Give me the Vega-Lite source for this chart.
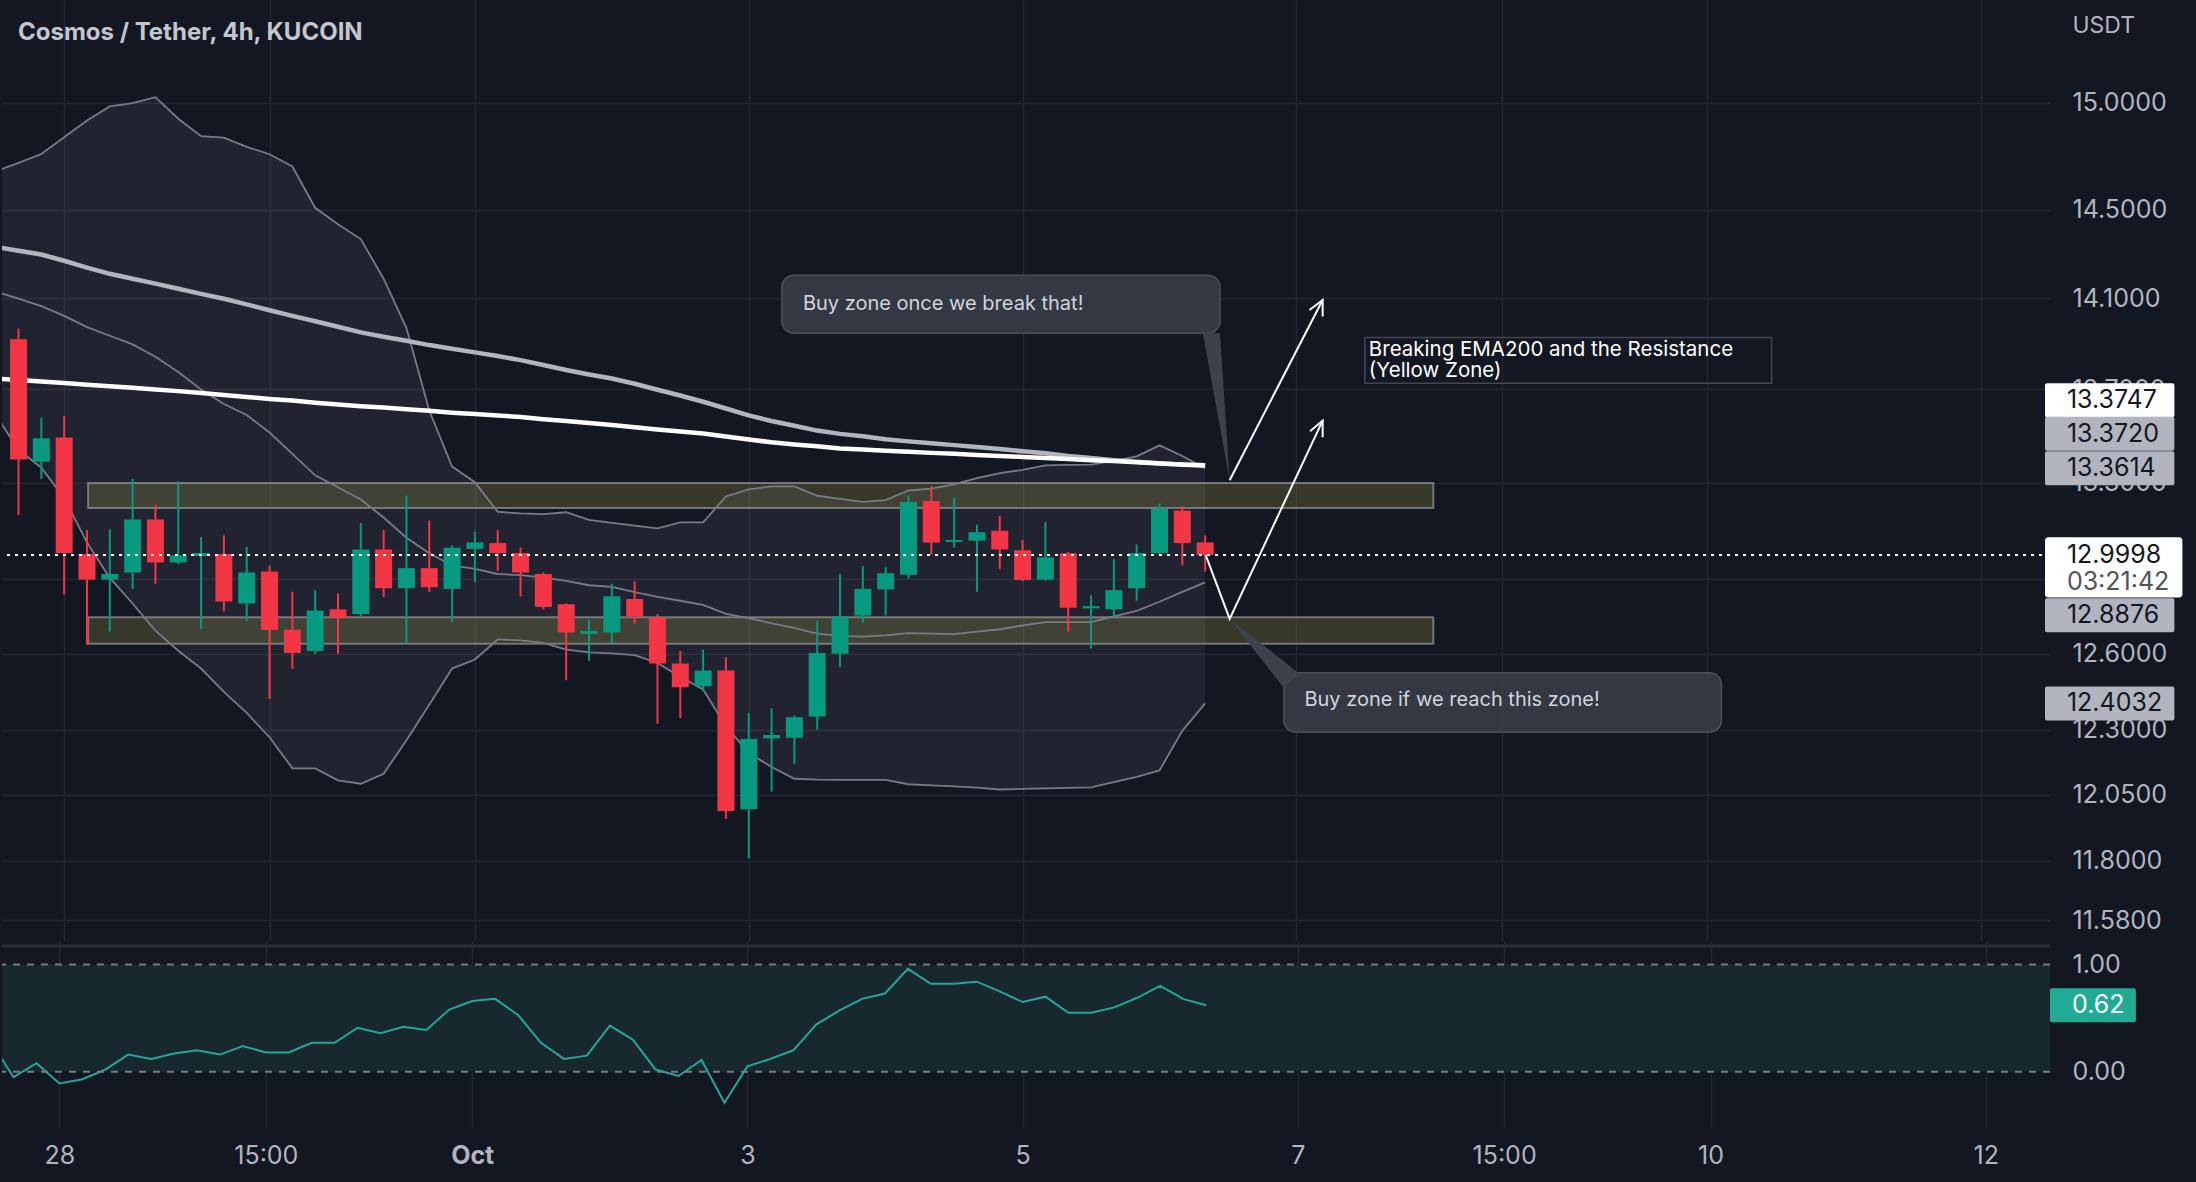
{
  "$schema": "https://vega.github.io/schema/vega-lite/v6.json",
  "background": "#131722",
  "padding": 0,
  "spacing": 0,
  "config": {"view": {"stroke": null}, "font": "Inter", "axis": {"labelFont": "Inter", "titleFont": "Inter"}},
  "datasets": {
    "bars": [
      {"t":-12,"bu":14.679,"bm":14.130,"bl":13.589,"eg":14.331,"ew":13.747,"osc":0.28},
      {"t":-8,"o":13.919,"h":13.966,"l":13.165,"c":13.399,"bu":14.718,"bm":14.099,"bl":13.440,"eg":14.314,"ew":13.740,"osc":-0.05},
      {"t":-4,"o":13.39,"h":13.577,"l":13.317,"c":13.489,"bu":14.759,"bm":14.065,"bl":13.364,"eg":14.297,"ew":13.734,"osc":0.08},
      {"t":0,"o":13.493,"h":13.584,"l":12.838,"c":13.008,"bu":14.838,"bm":14.022,"bl":13.236,"eg":14.269,"ew":13.727,"osc":-0.11},
      {"t":4,"o":13.004,"h":13.103,"l":12.636,"c":12.899,"bu":14.917,"bm":13.972,"bl":13.051,"eg":14.238,"ew":13.720,"osc":-0.07},
      {"t":8,"o":12.899,"h":13.106,"l":12.688,"c":12.922,"bu":14.983,"bm":13.934,"bl":12.906,"eg":14.210,"ew":13.713,"osc":0.02},
      {"t":12,"o":12.928,"h":13.317,"l":12.861,"c":13.147,"bu":14.999,"bm":13.896,"bl":12.802,"eg":14.188,"ew":13.707,"osc":0.16},
      {"t":16,"o":13.147,"h":13.206,"l":12.882,"c":12.969,"bu":15.027,"bm":13.842,"bl":12.692,"eg":14.166,"ew":13.699,"osc":0.12},
      {"t":20,"o":12.969,"h":13.307,"l":12.962,"c":12.998,"bu":14.925,"bm":13.775,"bl":12.612,"eg":14.143,"ew":13.692,"osc":0.17},
      {"t":24,"o":12.996,"h":13.074,"l":12.699,"c":13.008,"bu":14.843,"bm":13.699,"bl":12.541,"eg":14.120,"ew":13.684,"osc":0.20},
      {"t":28,"o":13.004,"h":13.081,"l":12.770,"c":12.810,"bu":14.836,"bm":13.636,"bl":12.449,"eg":14.098,"ew":13.675,"osc":0.16},
      {"t":32,"o":12.802,"h":13.033,"l":12.731,"c":12.928,"bu":14.793,"bm":13.589,"bl":12.366,"eg":14.073,"ew":13.667,"osc":0.24},
      {"t":36,"o":12.932,"h":12.957,"l":12.421,"c":12.695,"bu":14.758,"bm":13.514,"bl":12.271,"eg":14.047,"ew":13.658,"osc":0.18},
      {"t":40,"o":12.696,"h":12.849,"l":12.540,"c":12.603,"bu":14.701,"bm":13.423,"bl":12.151,"eg":14.022,"ew":13.651,"osc":0.18},
      {"t":44,"o":12.611,"h":12.856,"l":12.600,"c":12.773,"bu":14.510,"bm":13.332,"bl":12.151,"eg":13.998,"ew":13.642,"osc":0.27},
      {"t":48,"o":12.778,"h":12.842,"l":12.600,"c":12.745,"bu":14.435,"bm":13.282,"bl":12.105,"eg":13.974,"ew":13.634,"osc":0.27},
      {"t":52,"o":12.759,"h":13.132,"l":12.750,"c":13.023,"bu":14.367,"bm":13.230,"bl":12.092,"eg":13.949,"ew":13.627,"osc":0.41},
      {"t":56,"o":13.023,"h":13.103,"l":12.828,"c":12.864,"bu":14.188,"bm":13.155,"bl":12.130,"eg":13.930,"ew":13.621,"osc":0.36},
      {"t":60,"o":12.864,"h":13.246,"l":12.643,"c":12.946,"bu":13.968,"bm":13.071,"bl":12.260,"eg":13.912,"ew":13.614,"osc":0.42},
      {"t":64,"o":12.946,"h":13.143,"l":12.849,"c":12.868,"bu":13.608,"bm":13.007,"bl":12.398,"eg":13.893,"ew":13.607,"osc":0.39},
      {"t":68,"o":12.861,"h":13.040,"l":12.727,"c":13.030,"bu":13.369,"bm":12.957,"bl":12.541,"eg":13.877,"ew":13.599,"osc":0.58},
      {"t":72,"o":13.025,"h":13.096,"l":12.888,"c":13.052,"bu":13.303,"bm":12.943,"bl":12.577,"eg":13.861,"ew":13.593,"osc":0.66},
      {"t":76,"o":13.049,"h":13.103,"l":12.935,"c":13.008,"bu":13.179,"bm":12.922,"bl":12.657,"eg":13.845,"ew":13.587,"osc":0.68},
      {"t":80,"o":13.008,"h":13.030,"l":12.831,"c":12.928,"bu":13.172,"bm":12.917,"bl":12.653,"eg":13.827,"ew":13.580,"osc":0.53},
      {"t":84,"o":12.922,"h":12.928,"l":12.778,"c":12.788,"bu":13.169,"bm":12.907,"bl":12.643,"eg":13.806,"ew":13.571,"osc":0.27},
      {"t":88,"o":12.799,"h":12.803,"l":12.495,"c":12.685,"bu":13.177,"bm":12.894,"bl":12.616,"eg":13.784,"ew":13.563,"osc":0.12},
      {"t":92,"o":12.679,"h":12.737,"l":12.572,"c":12.691,"bu":13.145,"bm":12.876,"bl":12.605,"eg":13.764,"ew":13.555,"osc":0.15},
      {"t":96,"o":12.685,"h":12.882,"l":12.643,"c":12.831,"bu":13.133,"bm":12.869,"bl":12.601,"eg":13.747,"ew":13.546,"osc":0.43},
      {"t":100,"o":12.820,"h":12.893,"l":12.721,"c":12.749,"bu":13.121,"bm":12.848,"bl":12.594,"eg":13.724,"ew":13.536,"osc":0.30},
      {"t":104,"o":12.745,"h":12.759,"l":12.324,"c":12.561,"bu":13.110,"bm":12.829,"bl":12.563,"eg":13.698,"ew":13.527,"osc":0.02},
      {"t":108,"o":12.561,"h":12.611,"l":12.346,"c":12.467,"bu":13.135,"bm":12.813,"bl":12.508,"eg":13.673,"ew":13.518,"osc":-0.04},
      {"t":112,"o":12.471,"h":12.617,"l":12.453,"c":12.533,"bu":13.135,"bm":12.796,"bl":12.458,"eg":13.646,"ew":13.510,"osc":0.11},
      {"t":116,"o":12.533,"h":12.586,"l":11.958,"c":11.988,"bu":13.243,"bm":12.760,"bl":12.314,"eg":13.617,"ew":13.497,"osc":-0.29},
      {"t":120,"o":11.995,"h":12.366,"l":11.809,"c":12.264,"bu":13.273,"bm":12.743,"bl":12.210,"eg":13.587,"ew":13.484,"osc":0.05},
      {"t":124,"o":12.267,"h":12.384,"l":12.062,"c":12.280,"bu":13.285,"bm":12.722,"bl":12.156,"eg":13.563,"ew":13.472,"osc":0.12},
      {"t":128,"o":12.269,"h":12.356,"l":12.168,"c":12.349,"bu":13.285,"bm":12.703,"bl":12.111,"eg":13.543,"ew":13.463,"osc":0.20},
      {"t":132,"o":12.352,"h":12.731,"l":12.301,"c":12.603,"bu":13.246,"bm":12.680,"bl":12.108,"eg":13.522,"ew":13.455,"osc":0.44},
      {"t":136,"o":12.600,"h":12.921,"l":12.547,"c":12.749,"bu":13.233,"bm":12.671,"bl":12.107,"eg":13.508,"ew":13.446,"osc":0.57},
      {"t":140,"o":12.753,"h":12.954,"l":12.725,"c":12.861,"bu":13.220,"bm":12.668,"bl":12.107,"eg":13.498,"ew":13.441,"osc":0.68},
      {"t":144,"o":12.859,"h":12.950,"l":12.753,"c":12.925,"bu":13.228,"bm":12.673,"bl":12.107,"eg":13.485,"ew":13.436,"osc":0.73},
      {"t":148,"o":12.919,"h":13.246,"l":12.903,"c":13.220,"bu":13.268,"bm":12.682,"bl":12.090,"eg":13.476,"ew":13.432,"osc":0.96},
      {"t":152,"o":13.224,"h":13.288,"l":13.001,"c":13.051,"bu":13.276,"bm":12.680,"bl":12.086,"eg":13.468,"ew":13.427,"osc":0.82},
      {"t":156,"o":13.054,"h":13.240,"l":13.030,"c":13.062,"bu":13.294,"bm":12.678,"bl":12.082,"eg":13.460,"ew":13.423,"osc":0.82},
      {"t":160,"o":13.059,"h":13.125,"l":12.849,"c":13.094,"bu":13.320,"bm":12.688,"bl":12.077,"eg":13.452,"ew":13.418,"osc":0.84},
      {"t":164,"o":13.100,"h":13.162,"l":12.943,"c":13.023,"bu":13.341,"bm":12.698,"bl":12.070,"eg":13.443,"ew":13.414,"osc":0.75},
      {"t":168,"o":13.019,"h":13.062,"l":12.893,"c":12.897,"bu":13.355,"bm":12.713,"bl":12.072,"eg":13.434,"ew":13.410,"osc":0.65},
      {"t":172,"o":12.899,"h":13.136,"l":12.895,"c":12.990,"bu":13.374,"bm":12.727,"bl":12.074,"eg":13.425,"ew":13.405,"osc":0.70},
      {"t":176,"o":13.007,"h":13.012,"l":12.688,"c":12.785,"bu":13.376,"bm":12.727,"bl":12.076,"eg":13.414,"ew":13.401,"osc":0.55},
      {"t":180,"o":12.782,"h":12.835,"l":12.621,"c":12.791,"bu":13.377,"bm":12.727,"bl":12.078,"eg":13.405,"ew":13.396,"osc":0.55},
      {"t":184,"o":12.778,"h":12.983,"l":12.745,"c":12.856,"bu":13.393,"bm":12.750,"bl":12.098,"eg":13.396,"ew":13.392,"osc":0.60},
      {"t":188,"o":12.864,"h":13.044,"l":12.813,"c":13.008,"bu":13.412,"bm":12.772,"bl":12.118,"eg":13.389,"ew":13.387,"osc":0.69},
      {"t":192,"o":13.008,"h":13.214,"l":13.0,"c":13.191,"bu":13.459,"bm":12.809,"bl":12.143,"eg":13.383,"ew":13.382,"osc":0.80},
      {"t":196,"o":13.184,"h":13.203,"l":12.957,"c":13.049,"bu":13.414,"bm":12.849,"bl":12.296,"eg":13.377,"ew":13.378,"osc":0.68},
      {"t":200,"o":13.052,"h":13.081,"l":12.932,"c":12.9998,"bu":13.3614,"bm":12.8876,"bl":12.4032,"eg":13.372,"ew":13.3747,"osc":0.62}
    ],
    "zones": [
      {"t1":4.2,"t2":240,"p1":13.195,"p2":13.300},
      {"t1":4.2,"t2":240,"p1":12.640,"p2":12.746}
    ],
    "callouts": [
      {"t1":125.8,"t2":202.6,"p1":13.945,"p2":14.204},
      {"t1":213.8,"t2":290.5,"p1":12.291,"p2":12.524}
    ],
    "callouttext": [
      {"t":129.5,"p":14.073,"text":"Buy zone once we break that!"},
      {"t":217.4,"p":12.415,"text":"Buy zone if we reach this zone!"}
    ],
    "tail1": [
      {"p":13.945,"x1":199.6,"x2":202.6},
      {"p":13.311,"x1":204.3,"x2":204.3}
    ],
    "tail3": [
      {"t":204.3,"y1":12.740,"y2":12.740},
      {"t":213.8,"y1":12.464,"y2":12.570},
      {"t":216.5,"y1":12.52,"y2":12.52}
    ],
    "note": [{"t1":228,"t2":299.3,"p1":13.726,"p2":13.926}],
    "notetext": [
      {"t":228.7,"p":13.872,"text":"Breaking EMA200 and the Resistance"},
      {"t":228.7,"p":13.781,"text":"(Yellow Zone)"}
    ],
    "arrows": [
      {"seg":"a1","o":1,"t":200.1,"p":12.9998},
      {"seg":"a1","o":2,"t":204.3,"p":12.740},
      {"seg":"a1","o":3,"t":220.6,"p":13.565},
      {"seg":"h1","o":1,"t":218.4,"p":13.519},
      {"seg":"h1","o":2,"t":220.6,"p":13.565},
      {"seg":"h1","o":3,"t":220.6,"p":13.494},
      {"seg":"a2","o":1,"t":204.3,"p":13.311},
      {"seg":"a2","o":2,"t":220.6,"p":14.093},
      {"seg":"h2","o":1,"t":218.3,"p":14.048},
      {"seg":"h2","o":2,"t":220.6,"p":14.093},
      {"seg":"h2","o":3,"t":220.6,"p":14.019}
    ],
    "tags": [
      {"v":"13.3747","at":13.653,"kind":"ema"},
      {"v":"13.3720","at":13.508,"kind":"ind"},
      {"v":"13.3614","at":13.362,"kind":"ind"},
      {"v":"12.8876","at":12.754,"kind":"ind"},
      {"v":"12.4032","at":12.4032,"kind":"ind"}
    ],
    "last": [{"p1":12.826,"p2":13.073,"price":12.9998,"v":"12.9998","timer":"03:21:42","tp":12.890}],
    "band": [{"lo":0,"hi":1,"top":1.173}],
    "levels": [{"lv":1},{"lv":0}],
    "osctag": [{"v":"0.62","at":0.62}]
  },
  "vconcat": [
    {
      "width": 2048,
      "height": 941,
      "title": {"text": "Cosmos / Tether, 4h, KUCOIN", "anchor": "start", "orient": "top", "offset": -45, "dx": 17, "fontSize": 24, "fontWeight": "bold", "color": "#c3c6ce", "font": "Inter"},
      "layer": [
        {
          "data": {"name": "bars"},
          "mark": {"type": "area", "clip": true, "color": "#787b86", "opacity": 0.14},
          "encoding": {
            "x": {"field": "t", "type": "quantitative", "scale": {"domain": [-10.02, 347.22], "nice": false, "zero": false},
                  "axis": {"values": [0,36,72,120,168,216,252,288,336], "labels": false, "ticks": false, "domain": false, "grid": true, "gridColor": "#232733", "gridWidth": 1.5, "title": null, "minExtent": 0, "maxExtent": 0}},
            "y": {"field": "bl", "type": "quantitative", "scale": {"type": "log", "domain": [11.523, 15.472], "nice": false},
                  "axis": {"orient": "right", "values": [15,14.5,14.1,13.7,13.3,12.9,12.6,12.3,12.05,11.8,11.58], "labelExpr": "datum.value == 12.9 ? '' : format(datum.value, '.4f')", "grid": true, "gridColor": "#232733", "gridWidth": 1.5, "ticks": false, "tickSize": 0, "domain": false, "labelPadding": 22, "labelColor": "#b2b5be", "labelFontSize": 25, "labelBaseline": "middle", "labelAlign": "left", "labelOverlap": false, "labelBound": false, "title": "USDT", "titleAngle": 0, "titleAlign": "left", "titleBaseline": "middle", "titleX": 22, "titleY": 25, "titleColor": "#b2b5be", "titleFontSize": 23, "titleFontWeight": "normal", "minExtent": 148, "maxExtent": 148}},
            "y2": {"field": "bu"}
          }
        },
        {
          "data": {"name": "zones"},
          "mark": {"type": "rect", "fill": "#a59a45", "fillOpacity": 0.25, "stroke": "#a0a0a0", "strokeOpacity": 0.65, "strokeWidth": 2},
          "encoding": {"x": {"field": "t1", "type": "quantitative"}, "x2": {"field": "t2"}, "y": {"field": "p1", "type": "quantitative"}, "y2": {"field": "p2"}}
        },
        {"data": {"name": "bars"}, "mark": {"type": "line", "clip": true, "color": "#787b86", "strokeWidth": 1.8}, "encoding": {"x": {"field": "t", "type": "quantitative"}, "y": {"field": "bu", "type": "quantitative"}}},
        {"data": {"name": "bars"}, "mark": {"type": "line", "clip": true, "color": "#787b86", "strokeWidth": 1.8}, "encoding": {"x": {"field": "t", "type": "quantitative"}, "y": {"field": "bm", "type": "quantitative"}}},
        {"data": {"name": "bars"}, "mark": {"type": "line", "clip": true, "color": "#787b86", "strokeWidth": 1.8}, "encoding": {"x": {"field": "t", "type": "quantitative"}, "y": {"field": "bl", "type": "quantitative"}}},
        {"data": {"name": "bars"}, "mark": {"type": "line", "clip": true, "color": "#b2b5be", "strokeWidth": 4.5}, "encoding": {"x": {"field": "t", "type": "quantitative"}, "y": {"field": "eg", "type": "quantitative"}}},
        {"data": {"name": "bars"}, "mark": {"type": "line", "clip": true, "color": "#ffffff", "strokeWidth": 4.5}, "encoding": {"x": {"field": "t", "type": "quantitative"}, "y": {"field": "ew", "type": "quantitative"}}},
        {
          "data": {"name": "bars"},
          "transform": [{"filter": "isValid(datum.o)"}],
          "mark": {"type": "rule", "strokeWidth": 2, "clip": true},
          "encoding": {"x": {"field": "t", "type": "quantitative"}, "y": {"field": "l", "type": "quantitative"}, "y2": {"field": "h"},
                       "color": {"condition": {"test": "datum.c >= datum.o", "value": "#089981"}, "value": "#f23645"}}
        },
        {
          "data": {"name": "bars"},
          "transform": [{"filter": "isValid(datum.o)"}],
          "mark": {"type": "bar", "size": 17, "clip": true},
          "encoding": {"x": {"field": "t", "type": "quantitative"}, "y": {"field": "o", "type": "quantitative"}, "y2": {"field": "c"},
                       "color": {"condition": {"test": "datum.c >= datum.o", "value": "#089981"}, "value": "#f23645"}}
        },
        {"data": {"name": "last"}, "mark": {"type": "rule", "color": "#ffffff", "strokeWidth": 2, "strokeDash": [3, 5]}, "encoding": {"y": {"field": "price", "type": "quantitative"}}},
        {
          "data": {"name": "callouts"},
          "mark": {"type": "rect", "fill": "#363a45", "stroke": "#4f535e", "strokeWidth": 1.5, "cornerRadius": 12, "opacity": 0.97},
          "encoding": {"x": {"field": "t1", "type": "quantitative"}, "x2": {"field": "t2"}, "y": {"field": "p1", "type": "quantitative"}, "y2": {"field": "p2"}}
        },
        {
          "data": {"name": "tail1"},
          "mark": {"type": "area", "orient": "horizontal", "fill": "#3d414c"},
          "encoding": {"y": {"field": "p", "type": "quantitative"}, "x": {"field": "x1", "type": "quantitative"}, "x2": {"field": "x2"}}
        },
        {
          "data": {"name": "tail3"},
          "mark": {"type": "area", "fill": "#3d414c"},
          "encoding": {"x": {"field": "t", "type": "quantitative"}, "y": {"field": "y1", "type": "quantitative"}, "y2": {"field": "y2"}}
        },
        {
          "data": {"name": "callouttext"},
          "mark": {"type": "text", "align": "left", "baseline": "middle", "fontSize": 20, "color": "#d1d4dc"},
          "encoding": {"x": {"field": "t", "type": "quantitative"}, "y": {"field": "p", "type": "quantitative"}, "text": {"field": "text"}}
        },
        {
          "data": {"name": "note"},
          "mark": {"type": "rect", "fillOpacity": 0, "fill": "#131722", "stroke": "#434651", "strokeWidth": 1.5},
          "encoding": {"x": {"field": "t1", "type": "quantitative"}, "x2": {"field": "t2"}, "y": {"field": "p1", "type": "quantitative"}, "y2": {"field": "p2"}}
        },
        {
          "data": {"name": "notetext"},
          "mark": {"type": "text", "align": "left", "baseline": "middle", "fontSize": 20.5, "color": "#ffffff"},
          "encoding": {"x": {"field": "t", "type": "quantitative"}, "y": {"field": "p", "type": "quantitative"}, "text": {"field": "text"}}
        },
        {
          "data": {"name": "arrows"},
          "mark": {"type": "line", "color": "#ffffff", "strokeWidth": 2},
          "encoding": {"x": {"field": "t", "type": "quantitative"}, "y": {"field": "p", "type": "quantitative"}, "detail": {"field": "seg"}, "order": {"field": "o"}}
        },
        {
          "data": {"name": "tags"},
          "mark": {"type": "bar", "orient": "horizontal", "size": 34, "cornerRadius": 2},
          "encoding": {"x": {"datum": 347.22, "type": "quantitative"}, "x2": {"datum": 369.9}, "y": {"field": "at", "type": "quantitative"},
                       "fill": {"field": "kind", "type": "nominal", "scale": {"domain": ["ema", "ind"], "range": ["#ffffff", "#b2b5be"]}, "legend": null}}
        },
        {
          "data": {"name": "tags"},
          "mark": {"type": "text", "align": "left", "baseline": "middle", "fontSize": 25, "color": "#131722"},
          "encoding": {"x": {"datum": 351.06, "type": "quantitative"}, "y": {"field": "at", "type": "quantitative"}, "text": {"field": "v"}}
        },
        {
          "data": {"name": "last"},
          "mark": {"type": "bar", "color": "#ffffff", "cornerRadius": 3},
          "encoding": {"x": {"datum": 347.22, "type": "quantitative"}, "x2": {"datum": 371.3}, "y": {"field": "p1", "type": "quantitative"}, "y2": {"field": "p2"}}
        },
        {
          "data": {"name": "last"},
          "mark": {"type": "text", "align": "left", "baseline": "middle", "fontSize": 25, "color": "#131722"},
          "encoding": {"x": {"datum": 351.06, "type": "quantitative"}, "y": {"field": "price", "type": "quantitative"}, "text": {"field": "v"}}
        },
        {
          "data": {"name": "last"},
          "mark": {"type": "text", "align": "left", "baseline": "middle", "fontSize": 25, "color": "#50535e"},
          "encoding": {"x": {"datum": 351.06, "type": "quantitative"}, "y": {"field": "tp", "type": "quantitative"}, "text": {"field": "timer"}}
        }
      ]
    },
    {
      "width": 2048,
      "height": 186,
      "layer": [
        {
          "data": {"name": "band"},
          "mark": {"type": "rect", "color": "#17282f"},
          "encoding": {"x": {"datum": -10.02, "type": "quantitative"}, "x2": {"datum": 347.22}, "y": {"field": "lo", "type": "quantitative"}, "y2": {"field": "hi"}}
        },
        {
          "data": {"name": "bars"},
          "mark": {"type": "line", "clip": true, "color": "#26a69a", "strokeWidth": 2},
          "encoding": {
            "x": {"field": "t", "type": "quantitative", "scale": {"domain": [-10.02, 347.22], "nice": false, "zero": false},
                  "axis": {"orient": "bottom", "values": [0,36,72,120,168,216,252,288,336], "labelExpr": "{'0':'28','36':'15:00','72':'Oct','120':'3','168':'5','216':'7','252':'15:00','288':'10','336':'12'}[datum.value]", "grid": true, "gridColor": "#232733", "gridWidth": 1.5, "ticks": false, "tickSize": 0, "domain": false, "labelPadding": 16, "labelColor": "#b2b5be", "labelFontSize": 25, "labelFontWeight": {"condition": {"test": "datum.value === 72", "value": "bold"}, "value": "normal"}, "labelFlush": false, "labelOverlap": false, "title": null, "minExtent": 55, "maxExtent": 55}},
            "y": {"field": "osc", "type": "quantitative", "scale": {"domain": [-0.469, 1.173], "nice": false, "zero": false},
                  "axis": {"orient": "right", "values": [0, 1], "format": ".2f", "grid": false, "ticks": false, "tickSize": 0, "domain": false, "labelPadding": 22, "labelColor": "#b2b5be", "labelFontSize": 25, "labelAlign": "left", "labelBaseline": "middle", "labelOverlap": false, "title": null, "minExtent": 148, "maxExtent": 148}}
          }
        },
        {
          "data": {"name": "levels"},
          "mark": {"type": "rule", "color": "#787b86", "strokeWidth": 2, "strokeDash": [7, 7]},
          "encoding": {"y": {"field": "lv", "type": "quantitative"}}
        },
        {
          "data": {"name": "band"},
          "mark": {"type": "rule", "color": "#2a2e39", "strokeWidth": 3},
          "encoding": {"y": {"field": "top", "type": "quantitative"}}
        },
        {
          "data": {"name": "osctag"},
          "mark": {"type": "bar", "orient": "horizontal", "size": 34, "cornerRadius": 2, "color": "#22ab94"},
          "encoding": {"x": {"datum": 347.22, "type": "quantitative"}, "x2": {"datum": 362.2}, "y": {"field": "at", "type": "quantitative"}}
        },
        {
          "data": {"name": "osctag"},
          "mark": {"type": "text", "align": "left", "baseline": "middle", "fontSize": 25, "color": "#ffffff"},
          "encoding": {"x": {"datum": 351.06, "type": "quantitative"}, "y": {"field": "at", "type": "quantitative"}, "text": {"field": "v"}}
        }
      ]
    }
  ]
}
